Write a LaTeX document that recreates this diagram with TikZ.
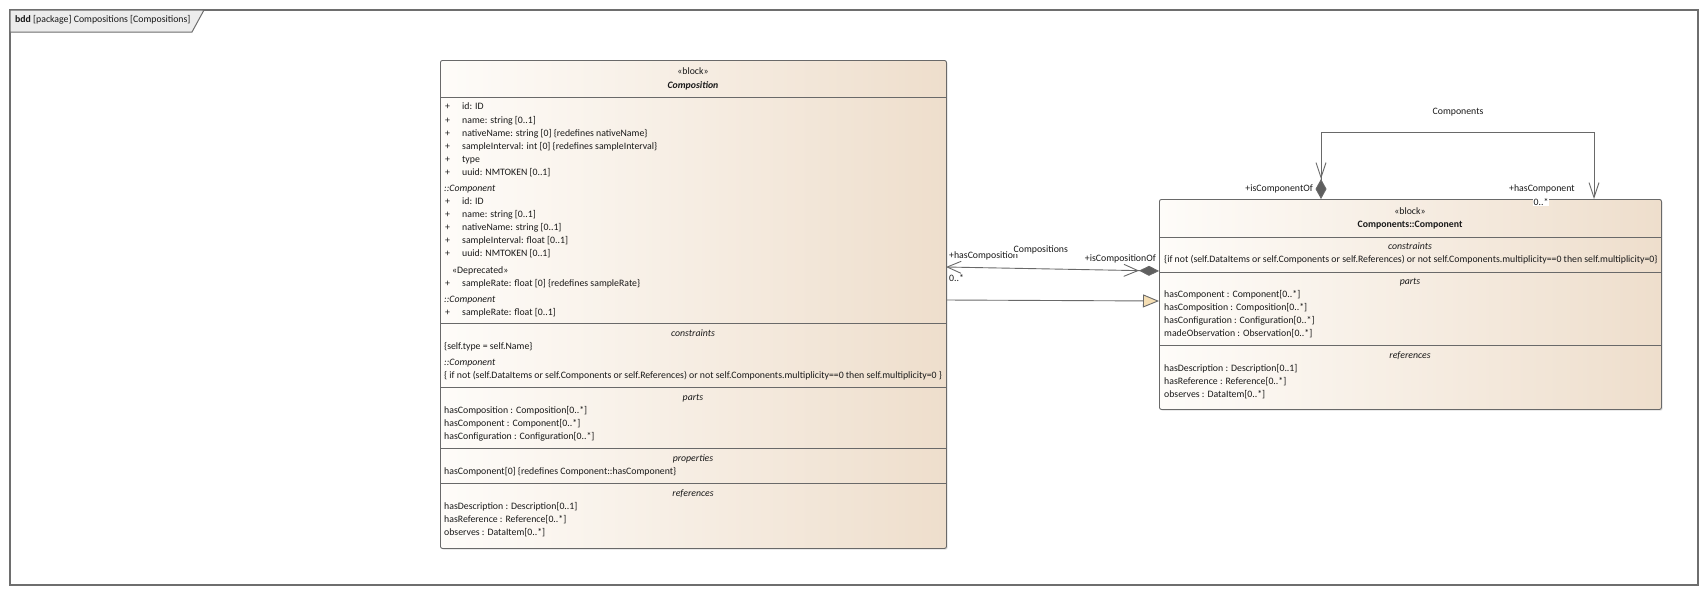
\documentclass[tikz,border=0pt]{standalone}
\usepackage{fontspec}
\setmainfont{Carlito}
\usetikzlibrary{arrows.meta,shadows}
\definecolor{boxline}{RGB}{105,105,105}
\definecolor{boxL}{RGB}{254,252,249}
\definecolor{boxR}{RGB}{238,222,204}
\definecolor{connc}{RGB}{105,105,105}
\definecolor{framec}{RGB}{110,110,110}
\definecolor{tabfill}{RGB}{236,236,236}
\definecolor{genfill}{RGB}{245,222,179}
\definecolor{txtc}{RGB}{25,25,25}
\definecolor{dia}{RGB}{95,95,95}
\newcommand{\dfont}{\fontsize{9.8}{11}\selectfont}
\begin{document}
\begin{tikzpicture}[x=1pt,y=-1pt,
  every node/.style={font=\dfont, text=txtc},
  blockbox/.style={draw=boxline, line width=0.9pt, rounded corners=2pt, left color=boxL, right color=boxR, anchor=north west, inner sep=0,
    drop shadow={shadow xshift=1.2pt, shadow yshift=-1.2pt, opacity=0.25}},
  txt/.style={anchor=mid west, inner sep=0},
  ctr/.style={anchor=mid, inner sep=0},
  itx/.style={anchor=mid west, inner sep=0, font=\dfont\itshape},
  ictr/.style={anchor=mid, inner sep=0, font=\dfont\itshape},
  sepline/.style={draw=boxline, line width=0.9pt},
  conn/.style={draw=connc, line width=0.9pt}]
\useasboundingbox (0,0) rectangle (1708,595);
% frame
\draw[draw=framec, line width=1.4pt] (10,10) rectangle (1698,585);
\filldraw[draw=framec, fill=tabfill, line width=1pt] (10,10) -- (204,10) -- (192,32) -- (10,32) -- cycle;
\node[txt] (title) at (15,20) {\textbf{bdd} [package] Compositions [Compositions]};

% Composition block
\node[blockbox, minimum width=506pt, minimum height=488pt] (comp) at (440,60) {};
\draw[sepline] (440,97) -- (946,97);
\draw[sepline] (440,323) -- (946,323);
\draw[sepline] (440,387) -- (946,387);
\draw[sepline] (440,448) -- (946,448);
\draw[sepline] (440,483) -- (946,483);
\node[ctr] (compst) at (693,72) {«block»};
\node[ctr, font=\dfont\bfseries\itshape] (compname) at (693,86) {Composition};
% attributes
\foreach \y [count=\i] in {107,121,134,147,160,173,202,215,228,241,254,284,313}
  \node[txt] (cp\i) at (445,\y) {+};
\node[txt] (ca1) at (462,107) {id: ID};
\node[txt] (ca2) at (462,121) {name: string [0..1]};
\node[txt] (ca3) at (462,134) {nativeName: string [0] \{redefines nativeName\}};
\node[txt] (ca4) at (462,147) {sampleInterval: int [0] \{redefines sampleInterval\}};
\node[txt] (ca5) at (462,160) {type};
\node[txt] (ca6) at (462,173) {uuid: NMTOKEN [0..1]};
\node[itx] (cc1) at (444,189) {::Component};
\node[txt] (ca7) at (462,202) {id: ID};
\node[txt] (ca8) at (462,215) {name: string [0..1]};
\node[txt] (ca9) at (462,228) {nativeName: string [0..1]};
\node[txt] (ca10) at (462,241) {sampleInterval: float [0..1]};
\node[txt] (ca11) at (462,254) {uuid: NMTOKEN [0..1]};
\node[txt] (cdep) at (452,271) {«Deprecated»};
\node[txt] (ca12) at (462,284) {sampleRate: float [0] \{redefines sampleRate\}};
\node[itx] (cc2) at (444,300) {::Component};
\node[txt] (ca13) at (462,313) {sampleRate: float [0..1]};
% constraints
\node[ictr] (cconh) at (693,334) {constraints};
\node[txt] (ccon1) at (444,347) {\{self.type = self.Name\}};
\node[itx] (cc3) at (444,363) {::Component};
\node[txt] (ccon2) at (444,376) {\{ if not (self.DataItems or self.Components or self.References) or not self.Components.multiplicity==0 then self.multiplicity=0 \}};
% parts
\node[ictr] (cparth) at (693,398) {parts};
\node[txt] (cpart1) at (444,411) {hasComposition : Composition[0..*]};
\node[txt] (cpart2) at (444,424) {hasComponent : Component[0..*]};
\node[txt] (cpart3) at (444,437) {hasConfiguration : Configuration[0..*]};
% properties
\node[ictr] (cproph) at (693,459) {properties};
\node[txt] (cprop1) at (444,472) {hasComponent[0] \{redefines Component::hasComponent\}};
% references
\node[ictr] (crefh) at (693,494) {references};
\node[txt] (cref1) at (444,507) {hasDescription : Description[0..1]};
\node[txt] (cref2) at (444,520) {hasReference : Reference[0..*]};
\node[txt] (cref3) at (444,533) {observes : DataItem[0..*]};

% Component block
\node[blockbox, minimum width=502pt, minimum height=210pt] (cmp) at (1159,199) {};
\draw[sepline] (1159,237) -- (1661,237);
\draw[sepline] (1159,272) -- (1661,272);
\draw[sepline] (1159,345) -- (1661,345);
\node[ctr] (cmpst) at (1410,212) {«block»};
\node[ctr, font=\dfont\bfseries] (cmpname) at (1410,225) {Components::Component};
\node[ictr] (kconh) at (1410,247) {constraints};
\node[txt] (kcon1) at (1164,260) {\{if not (self.DataItems or self.Components or self.References) or not self.Components.multiplicity==0 then self.multiplicity=0\}};
\node[ictr] (kparth) at (1410,282) {parts};
\node[txt] (kpart1) at (1164,295) {hasComponent : Component[0..*]};
\node[txt] (kpart2) at (1164,308) {hasComposition : Composition[0..*]};
\node[txt] (kpart3) at (1164,321) {hasConfiguration : Configuration[0..*]};
\node[txt] (kpart4) at (1164,334) {madeObservation : Observation[0..*]};
\node[ictr] (krefh) at (1410,356) {references};
\node[txt] (kref1) at (1164,369) {hasDescription : Description[0..1]};
\node[txt] (kref2) at (1164,382) {hasReference : Reference[0..*]};
\node[txt] (kref3) at (1164,395) {observes : DataItem[0..*]};

% connector end points on the blocks
\coordinate (c1) at (946,267);
\coordinate (c2) at (1159,271);
\coordinate (g1) at (946,300);
\coordinate (g2) at (1159,301);
\coordinate (s1) at (1321,199);
\coordinate (s2) at (1594,199);

% Compositions association
\draw[conn, {Straight Barb[length=14pt,width=12pt]}-{Straight Barb[length=14pt,width=12pt] Diamond[length=20pt,width=10pt,fill=dia]}] (c1) -- (c2);
% generalization
\draw[conn, -{Triangle[length=16pt,width=13pt,fill=genfill]}] (g1) -- (g2);
% Components self association
\draw[conn, {Straight Barb[length=15pt,width=10pt]}-{Straight Barb[length=15pt,width=10pt] Diamond[length=20pt,width=11pt,fill=dia]}] (s2) -- ++(0,-67) -| (s1);

% labels
\node[txt] (l1) at (949,256) {+hasComposition};
\node[txt, fill=white, inner sep=0.5pt] (l2) at (1013,250) {Compositions};
\node[txt] (l3) at (949,279) {0..*};
\node[anchor=mid east, inner sep=0] (l4) at (1156,259) {+isCompositionOf};
\node[ctr] (l5) at (1458,112) {Components};
\node[anchor=mid east, inner sep=0] (l6) at (1313,189) {+isComponentOf};
\node[txt] (l7) at (1509,189) {+hasComponent};
\node[txt, fill=white, inner sep=0.5pt] (l8) at (1533,203) {0..*};
\end{tikzpicture}
\end{document}
